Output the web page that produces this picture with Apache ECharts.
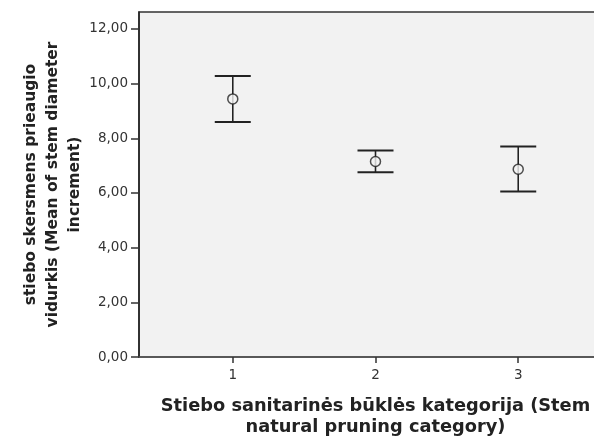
<!DOCTYPE html>
<html>
<head>
<meta charset="utf-8">
<script src="https://cdn.jsdelivr.net/npm/echarts@6/dist/echarts.min.js"></script>
<style>html,body{margin:0;padding:0;background:#fff;}#c{width:594px;height:437px;}</style>
</head>
<body>
<div id="c"></div>
<script>
const categories = [1, 2, 3];
const means = [9.44, 7.15, 6.87];
const lower = [8.60, 6.76, 6.05];
const upper = [10.28, 7.55, 7.70];
const yTicks = [0, 2, 4, 6, 8, 10, 12];

const chart = echarts.init(document.getElementById('c'));
const barData = categories.map((c, i) => [c, lower[i], upper[i]]);
const meanData = categories.map((c, i) => [c, means[i]]);

chart.setOption({
  animation: false,
  backgroundColor: '#ffffff',
  grid: {
    left: 139, top: 12, width: 473, height: 345,
    outerBoundsMode: 'none', containLabel: false,
    show: true, backgroundColor: '#f2f2f2', borderColor: '#333', borderWidth: 1.5
  },
  xAxis: {
    type: 'value', min: 0.343, max: 3.657,
    name: 'Stiebo sanitarinės būklės kategorija (Stem\nnatural pruning category)',
    nameLocation: 'middle', nameGap: 39, nameMoveOverlap: false,
    nameTextStyle: { fontFamily: 'DejaVu Sans', fontWeight: 'bold', fontSize: 17.8, color: '#222', lineHeight: 21 },
    axisLine: { show: true, onZero: false, lineStyle: { color: '#555', width: 1.5 } },
    axisTick: { show: true, customValues: categories, length: 6, inside: false, lineStyle: { color: '#333', width: 1.5 } },
    axisLabel: { customValues: categories, color: '#333', fontFamily: 'DejaVu Sans', fontSize: 13.5, margin: 11 },
    splitLine: { show: false }
  },
  yAxis: {
    type: 'value', min: 0, max: 12.62,
    name: 'stiebo skersmens prieaugio\nvidurkis (Mean of stem diameter\nincrement)',
    nameLocation: 'middle', nameGap: 53, nameRotate: 90, nameMoveOverlap: false,
    nameTextStyle: { fontFamily: 'DejaVu Sans', fontWeight: 'bold', fontSize: 15.5, color: '#222', lineHeight: 22 },
    axisLine: { show: true, lineStyle: { color: '#222', width: 1.5 } },
    axisTick: { show: true, customValues: yTicks, length: 8, lineStyle: { color: '#333', width: 1.5 } },
    axisLabel: {
      customValues: yTicks, color: '#333', fontFamily: 'DejaVu Sans', fontSize: 13.5, margin: 11,
      formatter: v => v.toFixed(2).replace('.', ',')
    },
    splitLine: { show: false }
  },
  series: [
    {
      type: 'custom',
      data: barData,
      renderItem: function (params, api) {
        const x = api.value(0);
        const lo = api.coord([x, api.value(1)]);
        const hi = api.coord([x, api.value(2)]);
        const hw = 18;
        const st = { stroke: '#222', lineWidth: 2 };
        return {
          type: 'group',
          children: [
            { type: 'line', shape: { x1: lo[0], y1: lo[1], x2: hi[0], y2: hi[1] }, style: { stroke: '#222', lineWidth: 1.6 } },
            { type: 'line', shape: { x1: hi[0] - hw, y1: hi[1], x2: hi[0] + hw, y2: hi[1] }, style: st },
            { type: 'line', shape: { x1: lo[0] - hw, y1: lo[1], x2: lo[0] + hw, y2: lo[1] }, style: st }
          ]
        };
      },
      z: 2
    },
    {
      type: 'scatter',
      data: meanData,
      symbol: 'circle',
      symbolSize: 10,
      itemStyle: { color: '#f2f2f2', borderColor: '#222', borderWidth: 1.5 },
      z: 3
    }
  ]
});
</script>
</body>
</html>
